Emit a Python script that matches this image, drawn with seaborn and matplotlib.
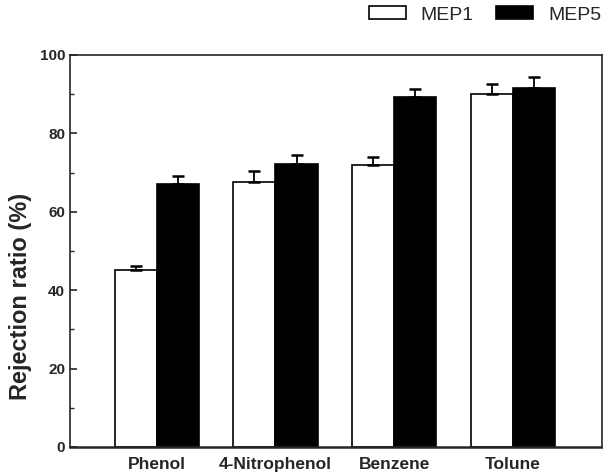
import matplotlib
matplotlib.use("Agg")
import matplotlib.pyplot as plt
import seaborn as sns
import pandas as pd
import numpy as np
from matplotlib.ticker import MultipleLocator
from matplotlib.patches import Patch

categories = ["Phenol", "4-Nitrophenol", "Benzene", "Tolune"]
series = ["MEP1", "MEP5"]
mep1 = [45.2, 67.7, 71.9, 90.0]
mep5 = [67.2, 72.1, 89.2, 91.7]
mep1_err = [1.1, 2.7, 2.0, 2.5]
mep5_err = [1.9, 2.4, 2.0, 2.6]
yticks = [0, 20, 40, 60, 80, 100]

sns.set_style("ticks")
plt.rcParams['font.family'] = ['Liberation Sans', 'DejaVu Sans']
plt.rcParams['ytick.direction'] = 'in'
plt.rcParams['xtick.direction'] = 'in'

df = pd.DataFrame({
    "cat": categories * 2,
    "series": [series[0]] * 4 + [series[1]] * 4,
    "val": mep1 + mep5,
    "err": mep1_err + mep5_err,
})

fig = plt.figure(figsize=(6.03, 4.74), dpi=100)
ax = fig.add_axes([70/603, 1-447/474, (602-70)/603, (447-55)/474])

sns.barplot(data=df, x="cat", y="val", hue="series", order=categories,
            hue_order=series, palette=["white", "black"], edgecolor="black",
            linewidth=1.2, width=0.71, errorbar=None, ax=ax, legend=False)

for bars, s in zip(ax.containers, series):
    sub = df[df.series == s].set_index("cat").loc[categories]
    xs = [b.get_x() + b.get_width() / 2 for b in bars]
    tops = [b.get_height() for b in bars]
    ax.errorbar(xs, tops, yerr=[np.zeros(len(xs)), sub["err"].values],
                fmt="none", ecolor="black", elinewidth=1.3, capsize=4, capthick=1.8)

ax.set_ylim(0, 100)
ax.set_xlim(-0.73, 3.75)
ax.set_yticks(yticks)
ax.yaxis.set_minor_locator(MultipleLocator(10))
ax.tick_params(axis="y", which="major", direction="in", length=5, width=1.2, labelsize=11)
ax.tick_params(axis="y", which="minor", direction="in", length=3, width=1.0)
ax.tick_params(axis="x", length=0, labelsize=12.5, pad=7)
for lab in ax.get_yticklabels() + ax.get_xticklabels():
    lab.set_fontweight("bold")
ax.set_xlabel("")
ax.set_ylabel("Rejection ratio (%)", fontsize=17, fontweight="bold")
ax.yaxis.set_label_coords((32 - 70) / 532, (447 - 296) / 392)
for sp in ax.spines.values():
    sp.set_linewidth(1.2)
    sp.set_visible(True)
ax.spines["bottom"].set_linewidth(1.8)

handles = [Patch(facecolor="white", edgecolor="black", linewidth=1.2),
           Patch(facecolor="black", edgecolor="black", linewidth=1.2)]
fig.legend(handles, series, loc="center right", bbox_to_anchor=(601/603, 1-15/474), ncol=2,
           frameon=False, fontsize=14, handlelength=1.9, handleheight=0.6,
           columnspacing=1.13, handletextpad=0.77, borderpad=0, borderaxespad=0)

fig.savefig("out.png", dpi=100)
